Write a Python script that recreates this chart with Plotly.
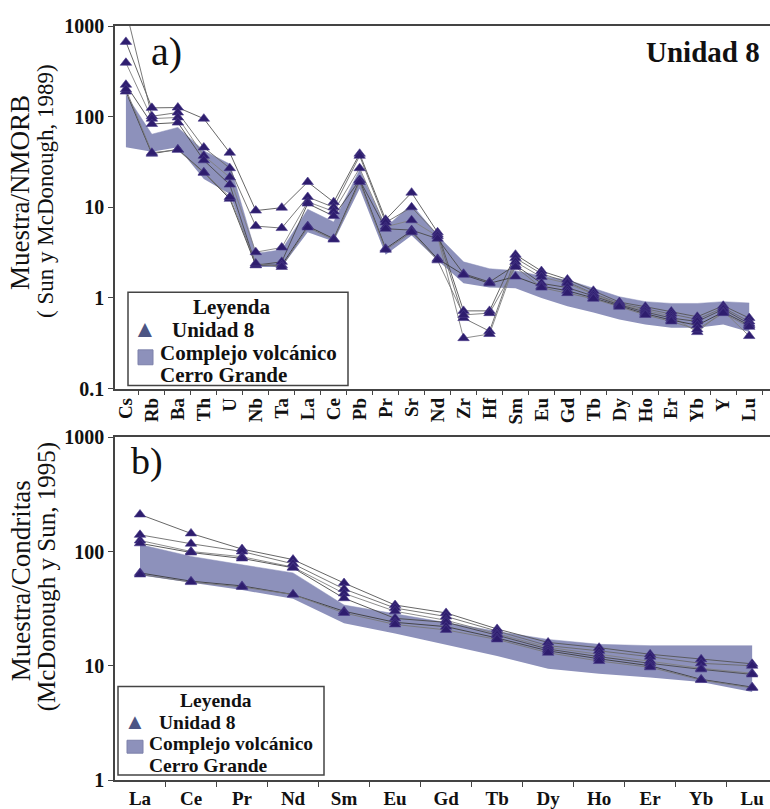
import plotly.graph_objects as go

# ---------------- DATA ----------------
elements_a = ["Cs", "Rb", "Ba", "Th", "U", "Nb", "Ta", "La", "Ce", "Pb", "Pr", "Sr", "Nd",
              "Zr", "Hf", "Sm", "Eu", "Gd", "Tb", "Dy", "Ho", "Er", "Yb", "Y", "Lu"]

sample_a1 = [668, 125, 126, 95, 40, 9.2, 9.9, 19, 11.4, 39, 7.3, 14.5, 5.3, 0.72, 0.72, 3.0, 1.98, 1.6, 1.2, 0.9, 0.8, 0.71, 0.62, 0.82, 0.6]
sample_a2 = [1500, 101, 111, 45.7, 27, 6.2, 5.9, 13, 10, 37, 6.8, 10, 5.0, 0.6, 0.43, 2.75, 1.85, 1.5, 1.12, 0.87, 0.76, 0.67, 0.58, 0.78, 0.55]
sample_a3 = [393, 95, 98, 37, 21.4, 3.2, 3.6, 11.5, 9, 27, 6.1, 7.2, 4.8, 0.36, 0.40, 2.5, 1.7, 1.45, 1.1, 0.85, 0.73, 0.63, 0.42, 0.72, 0.38]
sample_a4 = [225, 83, 86, 33, 17.8, 2.3, 2.5, 11, 8, 20, 5.8, 5.6, 4.5, 1.85, 1.5, 2.3, 1.45, 1.3, 1.05, 0.84, 0.7, 0.6, 0.55, 0.75, 0.52]
sample_a5 = [189, 39, 43.6, 24.3, 12.4, 2.3, 2.3, 6.2, 4.5, 20, 3.5, 5.5, 2.7, 1.8, 1.45, 1.72, 1.35, 1.2, 1.0, 0.82, 0.67, 0.57, 0.5, 0.7, 0.5]
sample_a6 = [200, 40, 43, 24, 13, 2.4, 2.2, 6.0, 4.4, 19, 3.4, 5.3, 2.6, 0.65, 0.68, 2.2, 1.3, 1.13, 0.98, 0.8, 0.65, 0.55, 0.45, 0.68, 0.48]

band_a_upper = [175, 64, 76, 42, 30, 3.1, 3.4, 9.5, 6.9, 26, 6.0, 10.8, 4.9, 2.5, 2.1, 2.0, 1.75, 1.58, 1.28, 1.03, 0.91, 0.87, 0.87, 0.91, 0.88]
band_a_lower = [46, 41, 46, 20.5, 14, 2.2, 2.2, 5.3, 4.2, 16, 3.0, 4.9, 2.6, 1.45, 1.3, 1.28, 1.0, 0.81, 0.69, 0.58, 0.51, 0.47, 0.47, 0.51, 0.42]

elements_b = ["La", "Ce", "Pr", "Nd", "Sm", "Eu", "Gd", "Tb", "Dy", "Ho", "Er", "Yb", "Lu"]

sample_b1 = [211, 144, 105, 85, 53, 34, 29, 21, 16, 14.4, 12.6, 11.4, 10.4]
sample_b2 = [140, 117, 100, 78, 47, 32, 27, 20, 15, 13.5, 12, 10.5, 10]
sample_b3 = [125, 100, 90, 73, 43, 30, 25, 19, 14.5, 12.6, 11, 9.5, 8.6]
sample_b4 = [118, 98, 87, 72, 39, 26, 24, 18.5, 14, 12, 10.5, 9.3, 8.4]
sample_b5 = [65, 55, 50, 42, 30, 24, 22, 17.5, 13.5, 11.5, 10, 7.6, 6.5]
sample_b6 = [63, 54, 49, 42, 29, 23, 20.6, 17, 13, 11, 9.7, 7.5, 6.4]

band_b_upper = [115, 90.6, 76.5, 65, 34, 28.5, 23.8, 20, 17, 15.4, 15, 15, 15]
band_b_lower = [62, 53, 46, 38.5, 23.5, 19.2, 15.4, 12.2, 9.4, 8.5, 7.9, 7.2, 5.9]

yticks_a = [0.1, 1, 10, 100, 1000]
yticklabels_a = ["0.1", "1", "10", "100", "1000"]
yticks_b = [1, 10, 100, 1000]
yticklabels_b = ["1", "10", "100", "1000"]

# ---------------- STYLE ----------------
SERIF = "Liberation Serif"
BAND = "#8d91bb"
MARK = "#2e1d6e"
LINE_COLS = ["#555555", "#6a6a6a", "#808080", "#4a4a4a", "#3c3c3c", "#777777"]
AXC = "#444444"

W, H = 770, 809
ML, MR, MT, MB = 115, 0, 26, 24
PW, PH = W - ML - MR, H - MT - MB


def px(x, y):
    return (x - ML) / PW, (H - MB - y) / PH


fig = go.Figure()


def add_panel(cats, samples, upper, lower, xa, ya):
    fig.add_trace(go.Scatter(x=cats, y=lower, mode="lines", line=dict(width=0, color=BAND),
                             xaxis=xa, yaxis=ya, showlegend=False, hoverinfo="skip"))
    fig.add_trace(go.Scatter(x=cats, y=upper, mode="lines", line=dict(width=0.5, color=BAND),
                             fill="tonexty", fillcolor=BAND, xaxis=xa, yaxis=ya,
                             showlegend=False, hoverinfo="skip"))
    for i, s in enumerate(samples):
        fig.add_trace(go.Scatter(x=cats, y=s, mode="lines",
                                 line=dict(width=0.9, color=LINE_COLS[i % len(LINE_COLS)]),
                                 xaxis=xa, yaxis=ya, showlegend=False))
    for s in samples:
        fig.add_trace(go.Scatter(x=cats, y=s, mode="markers",
                                 marker=dict(symbol="triangle-up", size=10, color=MARK,
                                             line=dict(width=0.6, color="#4a3d8a")),
                                 xaxis=xa, yaxis=ya, showlegend=False))


add_panel(elements_a, [sample_a1, sample_a2, sample_a3, sample_a4, sample_a5, sample_a6],
          band_a_upper, band_a_lower, "x", "y")
add_panel(elements_b, [sample_b1, sample_b2, sample_b3, sample_b4, sample_b5, sample_b6],
          band_b_upper, band_b_lower, "x2", "y2")

ya_bot = px(0, 391)[1]
yb_top = px(0, 440)[1]

common_x = dict(type="category", showline=True, linecolor=AXC, linewidth=1.6, mirror=True,
                ticks="outside", ticklen=5, tickcolor=AXC, tickson="boundaries",
                showgrid=False, zeroline=False,
                tickfont=dict(family=SERIF, size=19, color="#111111", weight="bold"))
common_y = dict(type="log", showline=True, linecolor=AXC, linewidth=1.6, ticks="outside",
                ticklen=5, tickcolor=AXC, showgrid=False, zeroline=False,
                tickfont=dict(family=SERIF, size=20, color="#111111", weight="bold"))

fig.update_layout(
    width=W, height=H, margin=dict(l=ML, r=MR, t=MT, b=MB),
    paper_bgcolor="white", plot_bgcolor="white", showlegend=False,
    xaxis=dict(common_x, domain=[0, 1], anchor="y", categoryorder="array",
               categoryarray=elements_a, range=[-0.42, 24.8], tickangle=-90),
    yaxis=dict(common_y, domain=[ya_bot, 1], anchor="x", range=[-1, 3],
               tickvals=yticks_a, ticktext=yticklabels_a),
    xaxis2=dict(common_x, domain=[0, 1], anchor="y2", categoryorder="array",
                categoryarray=elements_b, range=[-0.49, 12.35], tickangle=0),
    yaxis2=dict(common_y, domain=[0, yb_top], anchor="x2", range=[0, 3],
                tickvals=yticks_b, ticktext=yticklabels_b),
)

ann = []
shapes = []


def text(x, y, s, size, anchor="center", bold=False, color="#111111", angle=0):
    X, Y = px(x, y)
    ann.append(dict(x=X, y=Y, xref="paper", yref="paper", text=s, showarrow=False,
                    xanchor=anchor, yanchor="middle", textangle=angle,
                    font=dict(family=SERIF, size=size, color=color,
                              weight="bold" if bold else "normal")))


def rect(x0, y0, x1, y1, fill, line, lw):
    X0, Y0 = px(x0, y0)
    X1, Y1 = px(x1, y1)
    shapes.append(dict(type="rect", xref="paper", yref="paper", x0=X0, y0=Y0, x1=X1, y1=Y1,
                       fillcolor=fill, line=dict(color=line, width=lw), layer="above"))


# panel labels
text(166, 52, "a)", 40)
text(147, 464, "b)", 38)
text(762, 52, "Unidad 8", 29, anchor="right", bold=True)

# y-axis titles
text(20, 194, "Muestra/NMORB", 27, angle=-90)
text(46, 192, "( Sun y McDonough, 1989)", 23, angle=-90)
text(21, 585, "Muestra/Condritas", 27, angle=-90)
text(47, 581, "(McDonough y Sun, 1995)", 25, angle=-90)

# legend a
rect(128, 294, 348, 388, "white", AXC, 1.5)
text(232, 309, "Leyenda", 21, bold=True)
text(145, 331, "▲", 24, color="#4c5584")
text(170, 332, "Unidad 8", 21, anchor="left", bold=True)
rect(138, 352, 153, 367, BAND, "#7c80aa", 1)
text(158, 355, "Complejo volcánico", 21, anchor="left", bold=True)
text(158, 377, "Cerro Grande", 21, anchor="left", bold=True)

# legend b
rect(118, 691, 324, 780, "white", AXC, 1.5)
text(216, 705, "Leyenda", 19.5, bold=True)
text(135, 726, "▲", 22, color="#4c5584")
text(157, 727, "Unidad 8", 19.5, anchor="left", bold=True)
rect(127, 745, 143, 758, BAND, "#7c80aa", 1)
text(147, 748, "Complejo volcánico", 19.5, anchor="left", bold=True)
text(147, 770, "Cerro Grande", 19.5, anchor="left", bold=True)

fig.update_layout(annotations=ann, shapes=shapes)

fig.write_html("out.html")
